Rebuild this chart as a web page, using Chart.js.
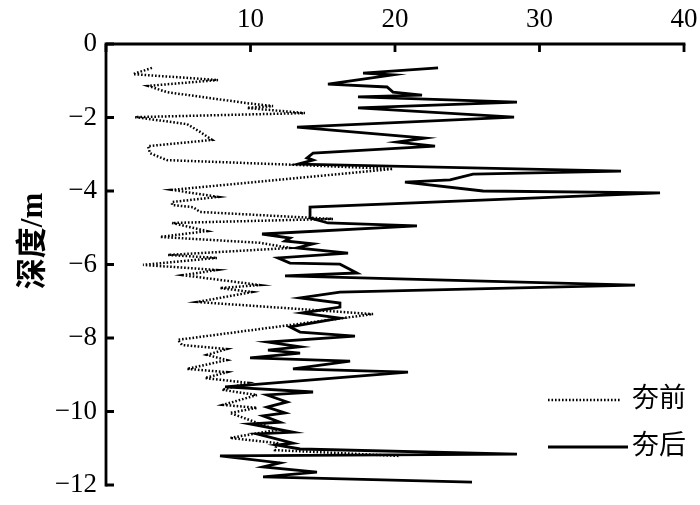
<!DOCTYPE html>
<html>
<head>
<meta charset="utf-8">
<script src="https://cdn.jsdelivr.net/npm/chart.js@4"></script>
<style>
  html, body { margin: 0; padding: 0; background: #fff; }
  #wrap { width: 700px; height: 505px; position: relative; }
</style>
</head>
<body>
<div id="wrap"><canvas id="c" width="700" height="505"></canvas></div>
<script>
// ---- data ----
const seriesNames = ['夯前', '夯后'];
const yAxisTitle = '深度/m';
const xTickValues = [0, 10, 20, 30, 40];
const yTickValues = [0, -2, -4, -6, -8, -10, -12];

// 夯前 (before compaction): value, depth
const beforeValue = [3.18, 1.87, 7.75, 2.91, 4.22, 9.76, 11.56, 9.76, 13.77, 2.01, 5.61, 6.51, 7.34, 2.91, 3.04, 4.22, 13.22, 19.86,
  4.57, 7.75, 4.57, 4.57, 6.02, 6.51, 15.71, 4.57, 6.99, 3.74, 10.66, 12.73, 4.29, 7.68, 2.56, 7.68, 5.33, 10.66, 7.89, 10.10, 6.30, 18.48,
  4.98, 5.26, 8.37, 6.99, 8.37, 5.61, 8.37, 6.85, 9.83, 8.03, 10.45, 8.10, 10.45, 8.58, 11.83, 8.58, 11.83, 11.70, 20.35];
const beforeDepth = [-0.65, -0.82, -0.98, -1.14, -1.31, -1.61, -1.69, -1.74, -1.88, -1.99, -2.18, -2.39, -2.61, -2.78, -2.97, -3.16, -3.29, -3.40,
  -3.97, -4.16, -4.30, -4.38, -4.44, -4.57, -4.76, -4.87, -5.09, -5.25, -5.41, -5.55, -5.74, -5.82, -6.01, -6.15, -6.29, -6.56, -6.64, -6.75, -7.02, -7.35,
  -8.05, -8.19, -8.30, -8.46, -8.60, -8.84, -8.93, -9.09, -9.22, -9.41, -9.55, -9.82, -9.90, -10.04, -10.50, -10.72, -10.86, -11.05, -11.21];

// 夯后 (after compaction): value, depth
const afterValue = [22.98, 17.79, 19.86, 15.36, 19.45, 19.86, 21.87, 17.44, 28.44, 17.44, 28.24, 13.22, 22.08, 20.14, 22.77, 14.33, 13.91, 14.33, 13.29,
  35.64, 25.40, 23.81, 20.69, 26.09, 38.34, 14.12, 14.12, 15.36, 21.52, 10.80, 12.73, 12.39, 14.33, 13.22, 16.75, 11.90, 12.73, 16.19, 17.37, 12.39,
  36.61, 16.19, 13.43, 16.19, 16.19, 13.56, 16.19, 12.73, 13.43, 17.23, 11.21, 13.43, 11.21, 13.43, 9.97, 16.89, 12.94, 20.90,
  8.24, 14.33, 11.14, 12.53, 11.14, 12.39, 10.87, 12.04, 9.97, 12.94, 10.45, 12.94, 11.83, 13.43, 28.44, 7.89, 12.04, 10.87, 14.60, 10.87, 25.33];
const afterDepth = [-0.65, -0.79, -0.84, -1.09, -1.17, -1.31, -1.39, -1.44, -1.58, -1.74, -1.99, -2.26, -2.56, -2.67, -2.78, -2.97, -3.10, -3.16, -3.27,
  -3.46, -3.54, -3.70, -3.76, -4.00, -4.05, -4.44, -4.73, -4.87, -4.95, -5.17, -5.28, -5.36, -5.44, -5.55, -5.69, -5.82, -5.96, -5.99, -6.23, -6.31,
  -6.56, -6.75, -6.91, -7.05, -7.16, -7.32, -7.46, -7.70, -7.84, -7.95, -8.11, -8.24, -8.33, -8.41, -8.54, -8.63, -8.84, -8.93,
  -9.33, -9.47, -9.55, -9.74, -9.88, -10.04, -10.12, -10.29, -10.34, -10.56, -10.61, -10.86, -10.91, -11.02, -11.16, -11.21, -11.40, -11.51, -11.65, -11.78, -11.92];

const toPoints = (xs, ys) => xs.map((v, i) => ({ x: v, y: ys[i] }));

const serifFont = '"Liberation Serif", "Noto Sans CJK SC", serif';
const cjkFont = '"Liberation Serif", "Noto Sans CJK SC", sans-serif';

const axesPlugin = {
  id: 'axesAndLegend',
  afterDraw(chart) {
    const { ctx, chartArea: a, scales } = chart;
    const xs = scales.x, ys = scales.y;
    ctx.save();
    ctx.strokeStyle = '#000';
    ctx.lineWidth = 2.8;
    ctx.lineCap = 'butt';
    // axis lines
    ctx.beginPath();
    ctx.moveTo(a.left, a.bottom + 1.4);
    ctx.lineTo(a.left, a.top);
    ctx.lineTo(a.right + 1.4, a.top);
    ctx.stroke();
    // inward ticks
    const tl = 8;
    ctx.beginPath();
    xTickValues.forEach(v => {
      const px = xs.getPixelForValue(v);
      ctx.moveTo(px, a.top);
      ctx.lineTo(px, a.top + tl);
    });
    yTickValues.forEach(v => {
      const py = ys.getPixelForValue(v);
      ctx.moveTo(a.left, py);
      ctx.lineTo(a.left + tl, py);
    });
    ctx.stroke();

    // y axis title
    ctx.fillStyle = '#000';
    ctx.font = 'bold 31px ' + cjkFont;
    ctx.textAlign = 'center';
    ctx.textBaseline = 'middle';
    ctx.translate(34, 241);
    ctx.rotate(-Math.PI / 2);
    ctx.fillText(yAxisTitle, 0, 0);
    ctx.setTransform(1, 0, 0, 1, 0, 0);

    // legend (inside plot, bottom right)
    const order = [1, 0]; // dataset indices: 夯前 first, then 夯后
    const rows = [400, 447];
    order.forEach((di, r) => {
      const ds = chart.data.datasets[di];
      const y = rows[r];
      ctx.save();
      ctx.strokeStyle = ds.borderColor;
      ctx.lineWidth = ds.borderWidth;
      ctx.setLineDash(ds.borderDash || []);
      ctx.beginPath();
      ctx.moveTo(548, y);
      ctx.lineTo(ds.borderDash ? 621 : 628, y);
      ctx.stroke();
      ctx.restore();
      ctx.fillStyle = '#000';
      ctx.font = '27px ' + cjkFont;
      ctx.textAlign = 'left';
      ctx.textBaseline = 'middle';
      ctx.fillText(ds.label, 632, y);
    });
    ctx.restore();
  }
};

new Chart(document.getElementById('c'), {
  type: 'scatter',
  data: {
    datasets: [
      {
        label: seriesNames[1],
        data: toPoints(afterValue, afterDepth),
        showLine: true,
        borderColor: '#000',
        borderWidth: 2.8,
        pointRadius: 0,
        tension: 0,
        order: 0
      },
      {
        label: seriesNames[0],
        data: toPoints(beforeValue, beforeDepth),
        showLine: true,
        borderColor: '#000',
        borderWidth: 2.5,
        borderDash: [1.6, 1.9],
        pointRadius: 0,
        tension: 0,
        order: 1
      }
    ]
  },
  options: {
    responsive: false,
    animation: false,
    layout: { padding: { left: 0, right: 16, top: 0, bottom: 20 } },
    plugins: { legend: { display: false }, tooltip: { enabled: false } },
    scales: {
      x: {
        type: 'linear',
        position: 'top',
        min: 0, max: 40,
        afterBuildTicks: s => { s.ticks = xTickValues.map(v => ({ value: v })); },
        afterFit: s => { s.height = 44; s.paddingLeft = 0; s.paddingRight = 0; },
        grid: { display: false, drawTicks: false },
        border: { display: false },
        ticks: {
          padding: 8,
          color: '#000',
          font: { family: serifFont, size: 27 },
          maxRotation: 0,
          callback: v => (v === 0 ? '' : String(v))
        }
      },
      y: {
        type: 'linear',
        position: 'left',
        min: -12, max: 0,
        afterBuildTicks: s => { s.ticks = yTickValues.map(v => ({ value: v })); },
        afterFit: s => { s.width = 106; s.paddingTop = 0; s.paddingBottom = 0; },
        grid: { display: false, drawTicks: false },
        border: { display: false },
        ticks: {
          padding: 9,
          color: '#000',
          font: { family: serifFont, size: 27 },
          callback: v => (v === 0 ? '0' : (v < 0 ? '\u2212' + Math.abs(v) : String(v)))
        }
      }
    }
  },
  plugins: [axesPlugin]
});
</script>
</body>
</html>
